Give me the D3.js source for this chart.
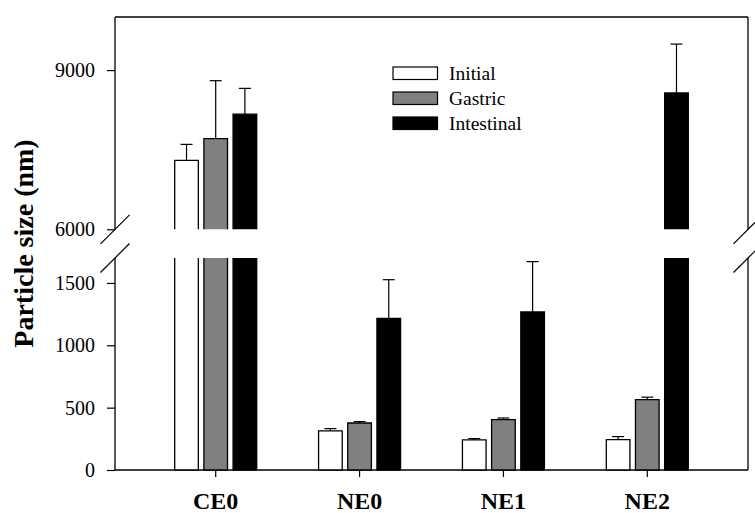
<!DOCTYPE html>
<html>
<head>
<meta charset="utf-8">
<script src="https://cdn.jsdelivr.net/npm/d3@7"></script>
<style>
  body { margin: 0; background: #fff; }
</style>
</head>
<body>
<div id="particle-chart"></div>
<script>
// values
const categories = ["CE0", "NE0", "NE1", "NE2"];
const seriesNames = ["Initial", "Gastric", "Intestinal"];
const initialMean = [7300, 313, 241, 244];
const initialErr = [300, 19, 11, 24];
const gastricMean = [7710, 377, 404, 565];
const gastricErr = [1090, 11, 13, 19];
const intestinalMean = [8170, 1215, 1267, 8570];
const intestinalErr = [485, 311, 404, 920];
const lowerTicks = [0, 500, 1000, 1500];
const upperTicks = [6000, 9000];
const lowerDomain = [0, 1700];
const upperDomain = [6000, 10000];

const serif = '"Liberation Serif", "Times New Roman", Times, serif';

function particleChart() {
  // Step 1: Set up our chart
  //=========================
  let svgWidth = 755;
  let svgHeight = 513;

  let margin = {
    top: 17,
    right: 7,
    left: 115,
    bottom: 43,
  };

  let width = svgWidth - margin.left - margin.right;
  let height = svgHeight - margin.top - margin.bottom;

  // Step 2: SVG wrapper + chart group
  // =================================
  let svg = d3
    .select("#particle-chart")
    .append("svg")
    .attr("width", svgWidth)
    .attr("height", svgHeight);

  let chartGroup = svg.append("g")
    .attr("transform", `translate(${margin.left}, ${margin.top})`);

  // Step 3: rows for each bar
  // =================================
  let means = [initialMean, gastricMean, intestinalMean];
  let errs = [initialErr, gastricErr, intestinalErr];
  let fills = { Initial: "#ffffff", Gastric: "#808080", Intestinal: "#000000" };

  let rows = [];
  categories.forEach((cat, i) => {
    seriesNames.forEach((name, j) => {
      rows.push({ cat: cat, name: name, value: means[j][i], err: errs[j][i] });
    });
  });

  // Step 4: Scales (broken y axis: two linear pieces)
  //=============================================
  let x = d3.scaleBand()
    .domain(categories)
    .range([0, width])
    .paddingInner(0)
    .paddingOuter(0.2);

  let xSub = d3.scaleBand()
    .domain(seriesNames)
    .range([-41, 41])
    .paddingInner(0.19);

  let yLow = d3.scaleLinear()
    .domain(lowerDomain)
    .range([height, height - 212]);

  let yHigh = d3.scaleLinear()
    .domain(upperDomain)
    .range([212.3, 0]);

  const seg = v => (v > lowerDomain[1] ? yHigh : yLow);

  // Step 5: Axes
  // ==============================================
  let leftLow = chartGroup.append("g")
    .call(d3.axisLeft(yLow).tickValues(lowerTicks).tickFormat(d3.format("d"))
      .tickSize(8).tickSizeOuter(0).tickPadding(12));
  let leftHigh = chartGroup.append("g")
    .call(d3.axisLeft(yHigh).tickValues(upperTicks).tickFormat(d3.format("d"))
      .tickSize(8).tickSizeOuter(0).tickPadding(12));
  let bottom = chartGroup.append("g")
    .attr("transform", `translate(0, ${height})`)
    .call(d3.axisBottom(x).tickSize(7).tickSizeOuter(0).tickPadding(15));

  [leftLow, leftHigh, bottom].forEach(g => {
    g.attr("font-family", serif);
    g.select(".domain").remove();
  });
  leftLow.selectAll("text").style("font-size", "20px");
  leftHigh.selectAll("text").style("font-size", "20px");
  bottom.selectAll("text").style("font-size", "24px").style("font-weight", "bold");
  chartGroup.selectAll(".tick line").attr("stroke", "#000").attr("stroke-width", 1.2);

  // frame, with gaps for the break
  let frame = [
    [0, 0, width, 0],
    [0, height, width, height],
    [0, yHigh(upperDomain[1]), 0, yHigh(upperDomain[0])],
    [0, yLow(lowerDomain[1]), 0, yLow(0)],
    [width, yHigh(upperDomain[1]), width, yHigh(upperDomain[0])],
    [width, yLow(lowerDomain[1]), width, yLow(0)]
  ];
  chartGroup.selectAll(".frame")
    .data(frame)
    .enter()
    .append("line")
    .attr("x1", d => d[0]).attr("y1", d => d[1])
    .attr("x2", d => d[2]).attr("y2", d => d[3])
    .attr("stroke", "#000")
    .attr("stroke-width", 1.3);

  // break marks
  let breaks = [];
  [0, width].forEach(bx => {
    breaks.push([bx, yHigh(upperDomain[0])]);
    breaks.push([bx, yLow(lowerDomain[1])]);
  });
  chartGroup.selectAll(".brk")
    .data(breaks)
    .enter()
    .append("line")
    .attr("x1", d => d[0] - 14.5).attr("y1", d => d[1] + 14.5)
    .attr("x2", d => d[0] + 14.5).attr("y2", d => d[1] - 14.5)
    .attr("stroke", "#000")
    .attr("stroke-width", 1.2);

  // Step 6: Bars (open ends at the break)
  // ==============================================
  const barPath = (x0, w, yTop, yBot, openSide) => {
    if (openSide === "bottom") return `M${x0},${yBot}V${yTop}H${x0 + w}V${yBot}`;
    if (openSide === "top") return `M${x0},${yTop}V${yBot}H${x0 + w}V${yTop}`;
    return `M${x0},${yBot}V${yTop}H${x0 + w}V${yBot}Z`;
  };

  let bw = xSub.bandwidth();
  let pieces = [];
  rows.forEach(d => {
    let x0 = x(d.cat) + x.bandwidth() / 2 + xSub(d.name);
    if (d.value > lowerDomain[1]) {
      pieces.push({ d: d, p: barPath(x0, bw, yLow(lowerDomain[1]), yLow(0), "top") });
      pieces.push({ d: d, p: barPath(x0, bw, yHigh(d.value), yHigh(upperDomain[0]), "bottom") });
    } else {
      pieces.push({ d: d, p: barPath(x0, bw, yLow(d.value), yLow(0), "none") });
    }
  });

  chartGroup.selectAll(".bar")
    .data(pieces)
    .enter()
    .append("path")
    .attr("d", d => d.p)
    .attr("fill", d => fills[d.d.name])
    .attr("stroke", "#000")
    .attr("stroke-width", 1.3);

  // Step 7: Error bars (upper only)
  // ==============================================
  const errX = d => x(d.cat) + x.bandwidth() / 2 + xSub(d.name) + bw / 2;

  let errGroup = chartGroup.selectAll(".err")
    .data(rows)
    .enter()
    .append("g");

  errGroup.append("line")
    .attr("x1", errX)
    .attr("x2", errX)
    .attr("y1", d => seg(d.value)(d.value))
    .attr("y2", d => seg(d.value)(d.value + d.err))
    .attr("stroke", "#000")
    .attr("stroke-width", 1.2);

  errGroup.append("line")
    .attr("x1", d => errX(d) - 6)
    .attr("x2", d => errX(d) + 6)
    .attr("y1", d => seg(d.value)(d.value + d.err))
    .attr("y2", d => seg(d.value)(d.value + d.err))
    .attr("stroke", "#000")
    .attr("stroke-width", 1.2);

  // Step 8: Legend
  // ==============================================
  let legend = chartGroup.append("g")
    .attr("transform", "translate(278, 50)");

  let legendRows = legend.selectAll(".leg")
    .data(seriesNames)
    .enter()
    .append("g")
    .attr("transform", (d, i) => `translate(0, ${i * 25})`);

  legendRows.append("rect")
    .attr("width", 44.5)
    .attr("height", 12.5)
    .attr("fill", d => fills[d])
    .attr("stroke", "#000")
    .attr("stroke-width", 1.2);

  legendRows.append("text")
    .attr("x", 56)
    .attr("y", 6.5)
    .attr("dy", "0.35em")
    .attr("font-family", serif)
    .style("font-size", "19.5px")
    .text(d => d);

  // Step 9: Y title
  svg.append("text")
    .attr("transform", `translate(33, ${margin.top + height / 2}) rotate(-90)`)
    .attr("text-anchor", "middle")
    .attr("font-family", serif)
    .style("font-size", "28px")
    .style("font-weight", "bold")
    .text("Particle size (nm)");
}

particleChart();
</script>
</body>
</html>
